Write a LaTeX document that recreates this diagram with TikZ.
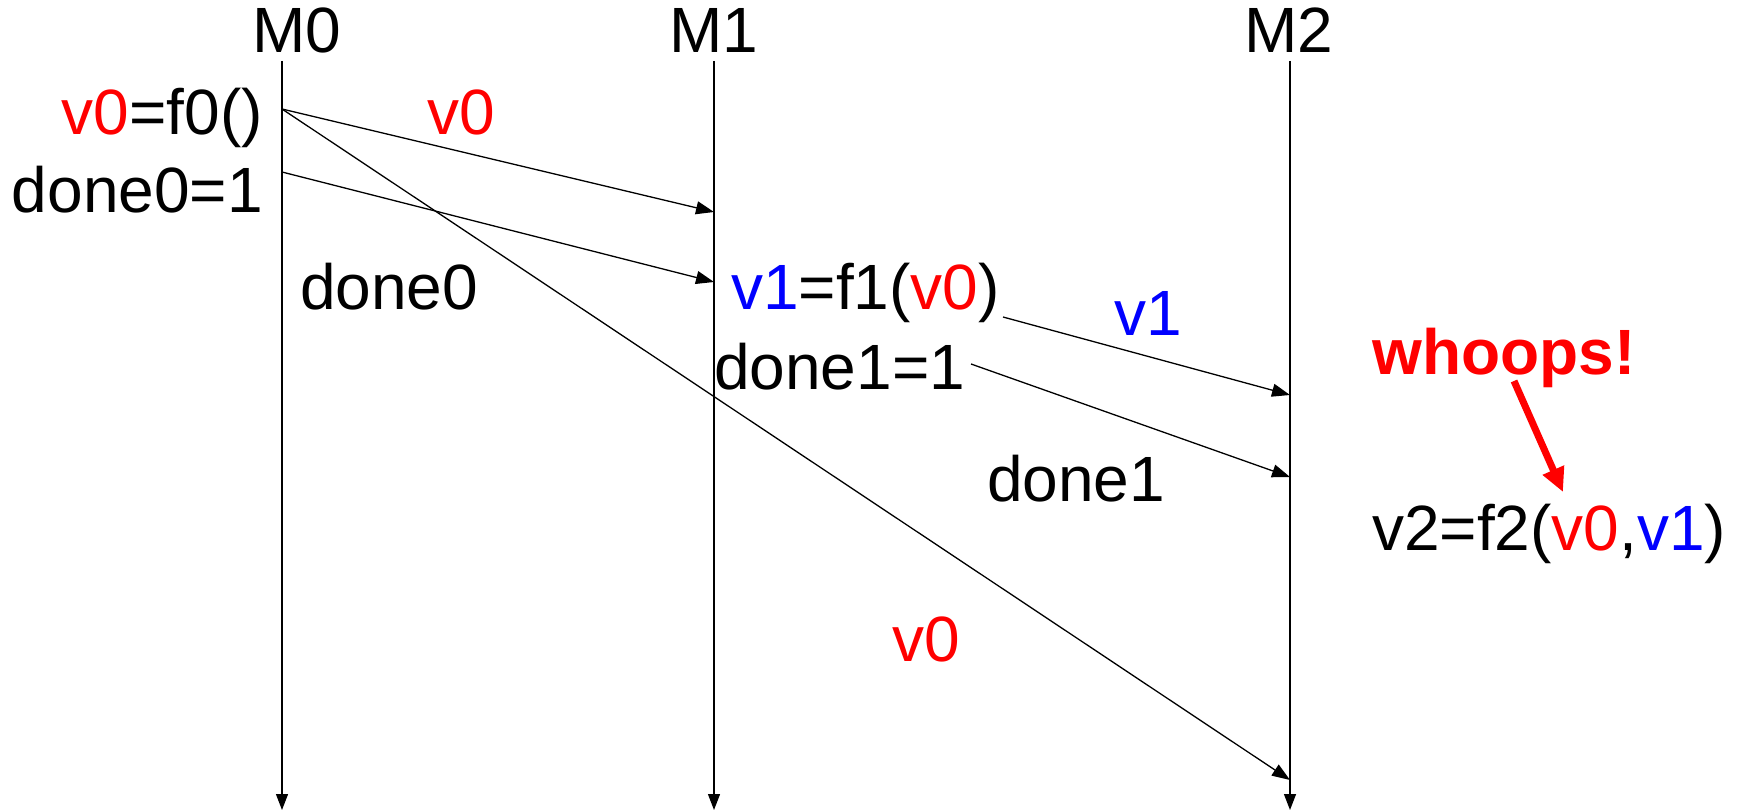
\documentclass[tikz,border=0pt]{standalone}
\usepackage{fontspec}
\setmainfont{Liberation Sans}
\usetikzlibrary{arrows.meta}
\definecolor{myred}{RGB}{255,0,0}
\definecolor{myblue}{RGB}{0,0,255}
\begin{document}
\begin{tikzpicture}[x=1pt,y=-1pt,
  lbl/.style={inner sep=0pt,font=\fontsize{64}{72}\selectfont},
  msg/.style={line width=1.3pt,-{Triangle[length=18pt,width=13pt]}},
  tl/.style={line width=1.3pt,-{Triangle[length=16pt,width=12pt]}},
  big/.style={myred,line width=7pt,-{Triangle[length=24pt,width=22pt]}}]
\useasboundingbox (0,0) rectangle (1743,810);
% process labels
\node[lbl,anchor=base] (M0) at (297,53) {M0};
\node[lbl,anchor=base] (M1) at (714,53) {M1};
\node[lbl,anchor=base] (M2) at (1289,53) {M2};
% timelines
\coordinate (t0s) at (282,61); \coordinate (t0e) at (282,810);
\coordinate (t1s) at (714,61); \coordinate (t1e) at (714,810);
\coordinate (t2s) at (1290,61); \coordinate (t2e) at (1290,810);
\draw[tl] (t0s) -- (t0e);
\draw[tl] (t1s) -- (t1e);
\draw[tl] (t2s) -- (t2e);
% texts
\node[lbl,anchor=base east] (f0) at (263,135) {\textcolor{myred}{v0}=f0()};
\node[lbl,anchor=base east] (d0s) at (263,213) {done0=1};
\node[lbl,anchor=base] (v0a) at (461,135) {\textcolor{myred}{v0}};
\node[lbl,anchor=base] (d0) at (389,310) {done0};
\node[lbl,anchor=base west] (f1) at (731,310) {\textcolor{myblue}{v1}=f1(\textcolor{myred}{v0})};
\node[lbl,anchor=base west] (d1s) at (714,389) {done1=1};
\node[lbl,anchor=base] (v1a) at (1148,335) {\textcolor{myblue}{v1}};
\node[lbl,anchor=base] (d1) at (1076,501) {done1};
\node[lbl,anchor=base west,font=\fontsize{64}{72}\selectfont\bfseries,text=myred] (wh) at (1372,374) {whoops!};
\node[lbl,anchor=base west] (f2) at (1372,550) {v2=f2(\textcolor{myred}{v0},\textcolor{myblue}{v1})};
\node[lbl,anchor=base] (v0b) at (926,661) {\textcolor{myred}{v0}};
% message endpoints
\coordinate (a1s) at (282,109); \coordinate (a1e) at (714,212);
\coordinate (a2s) at (282,172); \coordinate (a2e) at (714,282);
\coordinate (a3e) at (1290,780);
\coordinate (a4s) at (1003,317); \coordinate (a4e) at (1290,395);
\coordinate (a5s) at (971,364); \coordinate (a5e) at (1290,477);
\coordinate (ws) at (1514,381); \coordinate (we) at (1563,492);
\draw[msg] (a1s) -- (a1e);
\draw[msg] (a2s) -- (a2e);
\draw[msg] (a1s) -- (a3e);
\draw[msg] (a4s) -- (a4e);
\draw[msg] (a5s) -- (a5e);
\draw[big] (ws) -- (we);
\end{tikzpicture}
\end{document}
